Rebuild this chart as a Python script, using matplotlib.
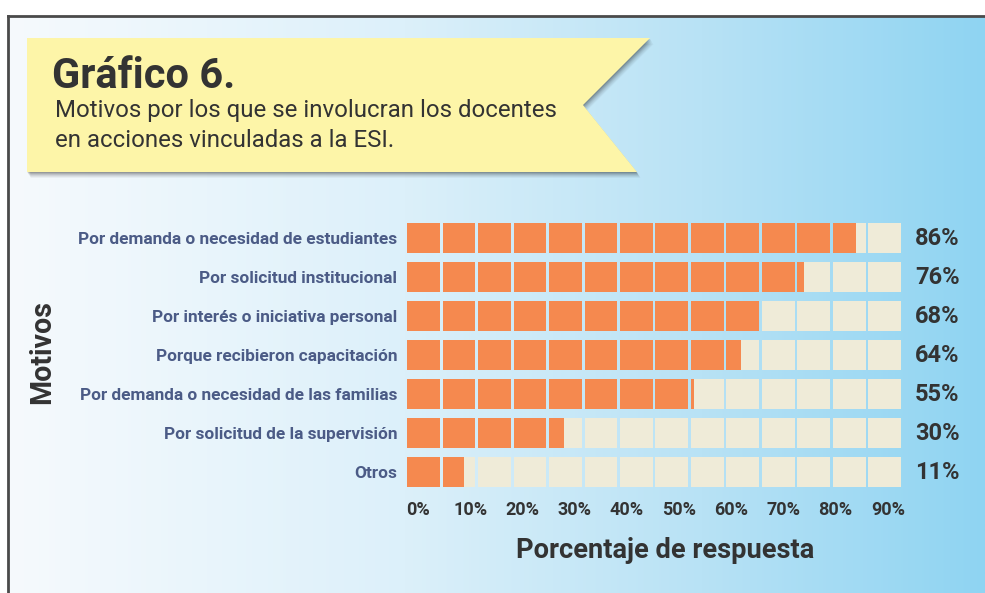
import numpy as np
import matplotlib
matplotlib.use('Agg')
import matplotlib.pyplot as plt
from matplotlib.patches import Polygon
from matplotlib.transforms import ScaledTranslation, blended_transform_factory

# data
motivos = [
    'Por demanda o necesidad de estudiantes',
    'Por solicitud institucional',
    'Por interés o iniciativa personal',
    'Porque recibieron capacitación',
    'Por demanda o necesidad de las familias',
    'Por solicitud de la supervisión',
    'Otros',
]
porcentajes = [86, 76, 68, 64, 55, 30, 11]
ticks = [0, 10, 20, 30, 40, 50, 60, 70, 80, 90]
tick_labels = [f'{t}%' for t in ticks]

n_cells = 14
pitch = 6.8          # percent per cell
gap = 0.57

orange = '#f5894f'
cream = '#efebd8'
dark = '#333333'
slate = '#4b5b86'

plt.rcParams['font.family'] = ['Roboto', 'DejaVu Sans']

W, H = 985, 593
fig = plt.figure(figsize=(W / 100, H / 100), dpi=100)

# background: frame, gradient and title banner
bg = fig.add_axes([0, 0, 1, 1])
xs = np.linspace(0, W, 500)
sx = [0, 400, 700, 985]
rgb = np.stack([np.interp(xs, sx, [246, 220, 184, 143]),
                np.interp(xs, sx, [250, 240, 226, 212]),
                np.interp(xs, sx, [253, 250, 245, 242])], axis=-1) / 255
bg.imshow(rgb[None, :, :], extent=[8, W, H, 16], aspect='auto', zorder=0)
bg.plot([8, 8], [16, H], color='#4a4a4a', lw=2, zorder=1)
bg.plot([8, W], [16, 16], color='#4a4a4a', lw=2, zorder=1)

banner = [(27, 38), (650, 38), (583, 105), (637, 172), (27, 172)]
for k, a in zip(range(6, 0, -1), [0.04, 0.05, 0.06, 0.08, 0.10, 0.12]):
    shadow = [(x + k * 0.6, y + k) for x, y in banner]
    bg.add_patch(Polygon(shadow, closed=True, color='black', alpha=a, lw=0, zorder=2))
bg.add_patch(Polygon(banner, closed=True, color='#fdf5a8', lw=0, zorder=3))
bg.text(52, 88, 'Gráfico 6.', fontsize=30, fontweight='bold', color=dark, zorder=4)
bg.text(55, 117, 'Motivos por los que se involucran los docentes', fontsize=17.3,
        color=dark, zorder=4)
bg.text(55, 147, 'en acciones vinculadas a la ESI.', fontsize=17.3, color=dark, zorder=4)
bg.set_xlim(0, W)
bg.set_ylim(H, 0)
bg.axis('off')

# main chart
ax = fig.add_axes([407 / W, 1 - 491.5 / H, 497 / W, 273 / H])
ax.patch.set_alpha(0)
y = np.arange(len(motivos))
vals = np.array(porcentajes, dtype=float)
cell_w = pitch - gap
for i in range(n_cells):
    start = i * pitch
    ax.barh(y, cell_w, left=start, height=0.79, color=cream, lw=0)
    seg = np.clip(vals - start, 0, cell_w)
    ax.barh(y, seg, left=start, height=0.79, color=orange, lw=0)

ax.set_xlim(0, n_cells * pitch)
ax.set_ylim(len(motivos) - 0.5, -0.5)
ax.set_yticks(y, motivos, fontsize=12.4, fontweight='bold', color=slate)
ax.set_xticks(ticks, tick_labels, fontsize=13, fontweight='bold', color=dark)
ax.tick_params(axis='both', length=0)
ax.tick_params(axis='y', pad=7)
ax.tick_params(axis='x', pad=7)
shift = ScaledTranslation(11 / 100, 0, fig.dpi_scale_trans)
for lab in ax.get_xticklabels():
    lab.set_transform(lab.get_transform() + shift)
for s in ax.spines.values():
    s.set_visible(False)

trans = blended_transform_factory(ax.transAxes, ax.transData)
for yi, v in zip(y, porcentajes):
    ax.text(1.022, yi, f'{v}%', transform=trans, ha='left', va='center',
            fontsize=17, fontweight='bold', color=dark)

fig.text(665 / W, 1 - 551 / H, 'Porcentaje de respuesta', ha='center', va='center',
         fontsize=19.6, fontweight='bold', color=dark)
fig.text(42 / W, 1 - 352 / H, 'Motivos', rotation=90, ha='center', va='center',
         fontsize=20.6, fontweight='bold', color=dark)

fig.savefig('out.png', dpi=100)
